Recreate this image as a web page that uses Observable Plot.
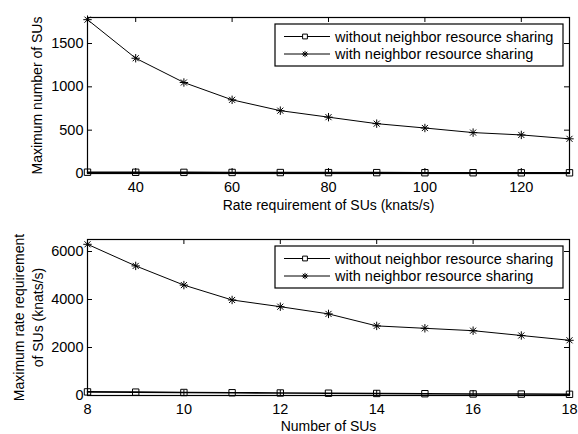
<!DOCTYPE html>
<html><head><meta charset="utf-8">
<script src="https://cdn.jsdelivr.net/npm/d3@7"></script>
<script src="https://cdn.jsdelivr.net/npm/@observablehq/plot@0.6"></script>
<style>
body{margin:0;background:#fff}
#chart{width:578px;height:434px;position:relative;overflow:hidden}
#chart svg{display:block;overflow:visible}
</style>
</head><body><div id="chart"></div>
<script>
// ---------- data ----------
const seriesNames = ["without neighbor resource sharing", "with neighbor resource sharing"];

const rateX = [30, 40, 50, 60, 70, 80, 90, 100, 110, 120, 130];
const topWithout = [15, 14, 13, 12, 11, 10, 10, 9, 9, 8, 8];
const topWith = [1775, 1330, 1050, 850, 725, 650, 575, 525, 472, 445, 400];

const numSU = [8, 9, 10, 11, 12, 13, 14, 15, 16, 17, 18];
const botWithout = [150, 140, 125, 115, 105, 95, 85, 75, 65, 60, 50];
const botWith = [6300, 5400, 4600, 3980, 3700, 3400, 2900, 2800, 2700, 2500, 2300];

const topXTicks = [40, 60, 80, 100, 120];
const topYTicks = [0, 500, 1000, 1500];
const botXTicks = [8, 10, 12, 14, 16, 18];
const botYTicks = [0, 2000, 4000, 6000];

const topXLabel = "Rate requirement of SUs (knats/s)";
const topYLabel = "Maximum number of SUs";
const botXLabel = "Number of SUs";
const botYLabel = "Maximum rate requirement\nof SUs (knats/s)";

// ---------- helpers ----------
const FONT = "'Liberation Sans', Arial, Helvetica, sans-serif";
const FS = 14.5;   // ticks and legend
const LFS = 14;    // axis titles
const asterisk = {
  draw(ctx, size) {
    const r = Math.sqrt(size / Math.PI);
    const d = r * 0.72;
    ctx.moveTo(-r, 0); ctx.lineTo(r, 0);
    ctx.moveTo(0, -r); ctx.lineTo(0, r);
    ctx.moveTo(-d, -d); ctx.lineTo(d, d);
    ctx.moveTo(-d, d); ctx.lineTo(d, -d);
  }
};

function panel({xs, without, withS, xDomain, yDomain, xTicks, yTicks, xLabel, yLabel,
                H, mt, mb, yLabelDx, xLabelDy, legendY}) {
  const W = 578, ml = 87, mr = 9;
  const innerW = W - ml - mr, innerH = H - mt - mb;
  const rowsA = xs.map((x, i) => ({x, y: without[i]}));
  const rowsB = xs.map((x, i) => ({x, y: withS[i]}));
  const plot = Plot.plot({
    width: W, height: H,
    marginLeft: ml, marginRight: mr, marginTop: mt, marginBottom: mb,
    style: {fontFamily: FONT, fontSize: FS + "px", color: "#000", background: "#fff", overflow: "visible"},
    x: {domain: xDomain},
    y: {domain: yDomain},
    marks: [
      Plot.axisX(xTicks, {tickSize: 0, tickPadding: 8, fontSize: FS, label: null, tickFormat: d3.format("d")}),
      Plot.axisY(yTicks, {tickSize: 0, tickPadding: 4, fontSize: FS, label: null, tickFormat: d3.format("d")}),
      // inward ticks (bottom/top/left/right)
      Plot.tickX(xTicks, {x: d => d, stroke: "#000", insetTop: innerH - 5}),
      Plot.tickX(xTicks, {x: d => d, stroke: "#000", insetBottom: innerH - 5}),
      Plot.tickY(yTicks, {y: d => d, stroke: "#000", insetRight: innerW - 5}),
      Plot.tickY(yTicks, {y: d => d, stroke: "#000", insetLeft: innerW - 5}),
      Plot.line(rowsA, {x: "x", y: "y", stroke: "#000", strokeWidth: 1.6}),
      Plot.dot(rowsA, {x: "x", y: "y", symbol: "square", r: 3.6, stroke: "#000", fill: "none", strokeWidth: 1}),
      Plot.line(rowsB, {x: "x", y: "y", stroke: "#000", strokeWidth: 1}),
      Plot.dot(rowsB, {x: "x", y: "y", symbol: asterisk, r: 4.2, stroke: "#000", fill: "none", strokeWidth: 1}),
      Plot.frame({stroke: "#000", strokeWidth: 1.2}),
      Plot.text([xLabel], {text: d => d, frameAnchor: "bottom", dy: xLabelDy, lineAnchor: "middle", fontSize: LFS, fill: "#000"}),
      Plot.text([yLabel], {text: d => d, frameAnchor: "left", dx: yLabelDx, rotate: -90, textAnchor: "middle", lineAnchor: "middle", fontSize: LFS, fill: "#000", lineHeight: 1.35})
    ]
  });
  // legend box inside the frame (upper right)
  const svg = d3.select(plot);
  const g = svg.append("g").attr("font-family", FONT).attr("font-size", FS).attr("text-anchor", "start");
  const bx = 275, bw = 288, bh = 42, by = legendY;
  g.append("rect").attr("x", bx).attr("y", by).attr("width", bw).attr("height", bh)
    .attr("fill", "#fff").attr("stroke", "#000").attr("stroke-width", 1.2);
  const rowY = [by + 12.5, by + 30];
  seriesNames.forEach((name, i) => {
    const y = rowY[i];
    g.append("line").attr("x1", 284).attr("x2", 330).attr("y1", y).attr("y2", y).attr("stroke", "#000");
    const sym = i === 0 ? d3.symbolSquare : asterisk;
    const r = i === 0 ? 2.7 : 3.1;
    g.append("path").attr("d", d3.symbol(sym, Math.PI * r * r)()).attr("transform", `translate(305,${y})`)
      .attr("fill", i === 0 ? "#fff" : "none").attr("stroke", "#000");
    g.append("text").attr("x", 335).attr("y", y).attr("dy", "0.35em").attr("fill", "#000").text(name);
  });
  return plot;
}

const chart = document.getElementById("chart");
chart.append(panel({
  xs: rateX, without: topWithout, withS: topWith,
  xDomain: [30, 130], yDomain: [0, 1800],
  xTicks: topXTicks, yTicks: topYTicks,
  xLabel: topXLabel, yLabel: topYLabel,
  H: 212, mt: 17, mb: 39, yLabelDx: -52, xLabelDy: 32, legendY: 24
}));
chart.append(panel({
  xs: numSU, without: botWithout, withS: botWith,
  xDomain: [8, 18], yDomain: [0, 6500],
  xTicks: botXTicks, yTicks: botYTicks,
  xLabel: botXLabel, yLabel: botYLabel,
  H: 222, mt: 27, mb: 39, yLabelDx: -60, xLabelDy: 31, legendY: 34
}));
</script>
</body></html>
